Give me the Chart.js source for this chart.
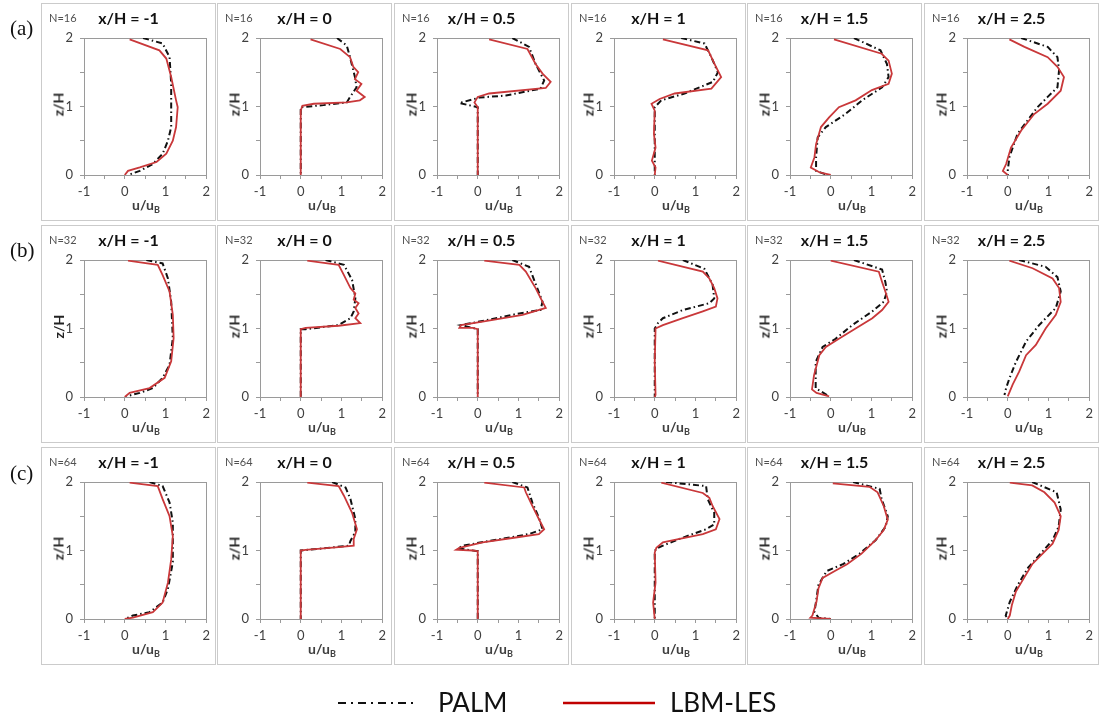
<!DOCTYPE html>
<html>
<head>
<meta charset="utf-8">
<script src="https://cdn.jsdelivr.net/npm/chart.js@4"></script>
<style>
  body { margin: 0; background: #fff; width: 1101px; height: 720px; position: relative; overflow: hidden; font-family: Lato, "Open Sans", sans-serif; }
  .panel { position: absolute; width: 175px; height: 218px; border: 1px solid #cbcbcb; box-sizing: border-box; background: #fff; }
  .panel canvas { position: absolute; left: 0; top: 0; }
  .nlab { position: absolute; left: 7px; top: 7px; font-size: 11px; color: #505050; }
  .ttl { position: absolute; left: 0; width: 173px; top: 4px; text-align: center; font-weight: bold; font-size: 16px; color: #111; }
  .zlab { position: absolute; left: -4px; top: 92px; width: 40px; text-align: center; font-weight: bold; font-size: 14px; color: #222; transform: rotate(-90deg); }
  .ulab { position: absolute; left: 64px; width: 80px; top: 192px; text-align: center; font-weight: bold; font-size: 14px; color: #404040; }
  .ulab sub { font-size: 9px; vertical-align: -3px; }
  .row { position: absolute; left: 10px; font-family: "Liberation Serif", serif; font-size: 21px; color: #111; }
  .legend { position: absolute; top: 686px; font-size: 26px; color: #111; }
</style>
</head>
<body>
<div id="fig"></div>
<div class="row" style="top:16px">(a)</div>
<div class="row" style="top:238px">(b)</div>
<div class="row" style="top:461px">(c)</div>

<svg style="position:absolute;left:330px;top:690px" width="100" height="30">
  <line x1="8" y1="13" x2="88" y2="13" stroke="#111" stroke-width="2" stroke-dasharray="8,5,2,5"/>
</svg>
<div class="legend" style="left:438px">PALM</div>
<svg style="position:absolute;left:555px;top:690px" width="110" height="30">
  <line x1="8" y1="13" x2="100" y2="13" stroke="#c00000" stroke-width="2.5"/>
</svg>
<div class="legend" style="left:670px">LBM-LES</div>

<script>
// profiles are [u/uB, z/H] pairs
const TITLES = ["x/H = -1", "x/H = 0", "x/H = 0.5", "x/H = 1", "x/H = 1.5", "x/H = 2.5"];
const NLABELS = ["N=16", "N=32", "N=64"];
const X_TICKS = [-1, 0, 1, 2];
const Y_TICKS = [0, 1, 2];

const lbmN16 = [
  [[0.12,1.98],[0.85,1.82],[1.02,1.70],[1.14,1.43],[1.26,1.09],[1.30,0.99],[1.26,0.70],[1.18,0.50],[1.02,0.31],[0.78,0.19],[0.37,0.11],[0.08,0.06],[0,0]],
  [[0.24,1.98],[0.97,1.84],[1.21,1.72],[1.29,1.58],[1.41,1.50],[1.33,1.40],[1.49,1.33],[1.37,1.23],[1.57,1.14],[1.45,1.09],[1.13,1.06],[0.32,1.04],[0.04,1.01],[0,0.94],[0,0]],
  [[0.28,1.98],[1.22,1.84],[1.42,1.62],[1.59,1.48],[1.79,1.36],[1.67,1.27],[0.28,1.19],[0,1.14],[-0.08,1.06],[0,0.99],[0,0]],
  [[0.20,1.98],[1.31,1.82],[1.47,1.62],[1.63,1.43],[1.39,1.26],[0.49,1.19],[0.12,1.11],[-0.08,1.04],[0,0.94],[-0.02,0.60],[0.02,0.40],[-0.07,0.21],[0.02,0.11],[0,0]],
  [[0.08,1.98],[1.25,1.77],[1.42,1.67],[1.50,1.48],[1.42,1.33],[1.01,1.24],[0.61,1.09],[0.20,0.99],[-0.04,0.84],[-0.24,0.70],[-0.36,0.45],[-0.40,0.26],[-0.49,0.11],[-0.28,0.04],[0,0]],
  [[0.04,1.98],[0.41,1.87],[0.98,1.72],[1.22,1.58],[1.38,1.43],[1.30,1.23],[0.98,1.04],[0.65,0.89],[0.33,0.65],[0.08,0.40],[-0.04,0.16],[-0.12,0.06],[0,0]]
];
const palmN16 = [
  [[0.45,2.0],[0.93,1.92],[1.10,1.72],[1.14,1.33],[1.14,1.09],[1.14,0.70],[1.06,0.50],[0.93,0.31],[0.69,0.16],[0.37,0.06],[0.08,0]],
  [[0.89,2.0],[1.13,1.89],[1.21,1.72],[1.33,1.43],[1.37,1.28],[1.21,1.14],[1.13,1.06],[0.56,1.02],[0,0.99],[0,0]],
  [[0.85,2.0],[1.26,1.87],[1.42,1.62],[1.63,1.38],[1.54,1.26],[0.69,1.16],[0.04,1.13],[-0.45,1.05],[0,0.99],[0,0]],
  [[0.65,2.0],[1.22,1.92],[1.39,1.72],[1.55,1.50],[1.43,1.36],[0.73,1.19],[0.16,1.09],[0,0.99],[0,0]],
  [[0.57,2.0],[1.22,1.82],[1.38,1.62],[1.42,1.43],[1.26,1.28],[0.77,1.09],[0.36,0.89],[-0.12,0.70],[-0.32,0.55],[-0.36,0.26],[-0.36,0.06],[-0.08,0]],
  [[0.33,2.0],[0.98,1.87],[1.22,1.72],[1.26,1.53],[1.22,1.28],[0.98,1.14],[0.73,0.99],[0.49,0.80],[0.24,0.60],[0.04,0.26],[0,0.06],[0,0]]
];

const lbmN32 = [
  [[0.08,1.99],[0.81,1.93],[0.93,1.78],[1.10,1.54],[1.18,1.20],[1.20,0.86],[1.14,0.52],[0.98,0.28],[0.61,0.13],[0.12,0.06],[0,0]],
  [[0.16,1.99],[0.93,1.93],[1.06,1.78],[1.22,1.59],[1.34,1.51],[1.30,1.42],[1.42,1.37],[1.34,1.30],[1.42,1.22],[1.34,1.15],[1.46,1.08],[0.93,1.04],[0.12,1.01],[0,0.99],[0,0]],
  [[0.16,1.99],[1.02,1.93],[1.18,1.83],[1.42,1.59],[1.59,1.39],[1.67,1.30],[1.10,1.20],[0.12,1.10],[-0.41,1.05],[-0.45,1.01],[-0.12,1.01],[0,0.99],[0,0]],
  [[0.08,1.99],[1.18,1.83],[1.34,1.73],[1.46,1.59],[1.54,1.44],[1.50,1.32],[1.18,1.25],[0.69,1.15],[0.20,1.05],[0.02,1.00],[0,0.51],[0.02,0.03],[0,0]],
  [[0,1.99],[1.18,1.83],[1.26,1.68],[1.34,1.54],[1.42,1.39],[1.26,1.27],[1.02,1.15],[0.61,1.00],[0.20,0.85],[-0.12,0.73],[-0.28,0.61],[-0.41,0.32],[-0.46,0.11],[-0.35,0.06],[-0.04,0.01]],
  [[0.04,1.99],[0.61,1.88],[1.10,1.73],[1.26,1.59],[1.30,1.39],[1.18,1.20],[0.93,1.00],[0.69,0.76],[0.45,0.61],[0.28,0.37],[0.12,0.18],[0,0.01]]
];
const palmN32 = [
  [[0.53,2.0],[0.93,1.95],[1.06,1.73],[1.14,1.39],[1.18,0.86],[1.10,0.47],[0.93,0.28],[0.69,0.13],[0.37,0.06],[0.04,0.01]],
  [[0.61,2.0],[1.06,1.93],[1.26,1.71],[1.34,1.44],[1.30,1.25],[1.22,1.15],[0.93,1.05],[0.12,0.99],[0,0.99],[0,0]],
  [[0.85,2.0],[1.26,1.90],[1.46,1.59],[1.59,1.39],[1.54,1.27],[1.02,1.22],[0.20,1.12],[-0.41,1.05],[0,0.99],[0,0]],
  [[0.69,2.0],[1.22,1.87],[1.42,1.64],[1.46,1.44],[1.34,1.37],[0.69,1.27],[0.20,1.15],[0.08,1.08],[0,1.00],[0,0]],
  [[0.57,2.0],[1.26,1.86],[1.34,1.68],[1.38,1.54],[1.30,1.39],[1.02,1.25],[0.53,1.05],[0.12,0.85],[-0.20,0.73],[-0.37,0.51],[-0.37,0.13],[-0.04,0.01]],
  [[0.28,2.0],[0.93,1.90],[1.22,1.75],[1.30,1.54],[1.18,1.30],[0.77,1.05],[0.45,0.81],[0.20,0.51],[0.04,0.27],[-0.04,0.13],[-0.08,0.03]]
];

const lbmN64 = [
  [[0.12,1.99],[0.81,1.94],[0.93,1.75],[1.10,1.50],[1.18,1.21],[1.14,0.87],[1.06,0.53],[0.93,0.24],[0.69,0.10],[0.20,0.02],[0,0]],
  [[0.16,1.99],[0.93,1.94],[1.06,1.80],[1.26,1.55],[1.38,1.31],[1.30,1.17],[1.30,1.07],[0.93,1.05],[0.12,1.01],[0,1.00],[0,0]],
  [[0.16,1.99],[1.14,1.92],[1.18,1.85],[1.34,1.65],[1.50,1.46],[1.63,1.31],[1.50,1.24],[0.93,1.19],[0.12,1.12],[-0.45,1.04],[-0.53,1.01],[-0.12,1.00],[0,0.99],[0,0]],
  [[0.16,1.99],[1.18,1.84],[1.34,1.77],[1.42,1.65],[1.59,1.46],[1.50,1.31],[1.18,1.24],[0.61,1.17],[0.20,1.12],[0.04,1.04],[0,0.97],[0.02,0.53],[-0.04,0.24],[0,0]],
  [[0.05,1.98],[0.95,1.93],[1.15,1.85],[1.30,1.65],[1.40,1.45],[1.30,1.30],[1.10,1.15],[0.75,0.95],[0.40,0.80],[0.10,0.70],[-0.20,0.60],[-0.30,0.45],[-0.35,0.25],[-0.45,0.05],[-0.50,0.02],[0,0]],
  [[0.05,1.99],[0.60,1.95],[0.90,1.85],[1.15,1.70],[1.30,1.50],[1.25,1.30],[1.10,1.10],[0.85,0.95],[0.60,0.80],[0.40,0.60],[0.20,0.40],[0.10,0.20],[0.05,0.05],[0,0]]
];
const palmN64 = [
  [[0.61,2.0],[0.93,1.94],[1.10,1.70],[1.18,1.41],[1.18,1.12],[1.18,0.83],[1.06,0.44],[0.93,0.24],[0.61,0.10],[0.20,0.05],[0,0]],
  [[0.77,2.0],[1.10,1.92],[1.22,1.75],[1.34,1.46],[1.34,1.27],[1.22,1.14],[1.18,1.07],[0.53,1.03],[0,1.00],[0,0]],
  [[0.85,2.0],[1.22,1.92],[1.34,1.70],[1.50,1.48],[1.59,1.31],[1.26,1.24],[0.28,1.14],[-0.37,1.07],[-0.49,1.03],[0,0.99],[0,0]],
  [[0.28,2.0],[1.26,1.94],[1.30,1.75],[1.46,1.55],[1.46,1.38],[1.26,1.31],[0.61,1.17],[0.28,1.09],[0.04,1.03],[0,0.99],[0,0]],
  [[0.55,2.0],[1.20,1.90],[1.25,1.75],[1.40,1.50],[1.35,1.35],[1.10,1.15],[0.70,0.95],[0.30,0.80],[-0.10,0.70],[-0.30,0.50],[-0.35,0.30],[-0.40,0.10],[-0.30,0.02],[0,0]],
  [[0.60,2.0],[1.20,1.85],[1.30,1.60],[1.25,1.35],[1.10,1.15],[0.80,0.95],[0.50,0.75],[0.25,0.50],[0.05,0.25],[-0.05,0.05],[0,0]]
];

const LBM = [lbmN16, lbmN32, lbmN64];
const PALM = [palmN16, palmN32, palmN64];

const COL_LEFT = [41, 217, 394, 571, 747, 924];
const ROW_TOP = [3, 225, 447];
const CW = 173, CH = 216;

const frame = {
  id: "frame",
  beforeDatasetsDraw(chart) {
    const a = chart.chartArea, ctx = chart.ctx;
    ctx.save();
    ctx.strokeStyle = "#9a9a9a";
    ctx.lineWidth = 1;
    ctx.strokeRect(Math.round(a.left) + 0.5, Math.round(a.top) + 0.5, Math.round(a.right - a.left), Math.round(a.bottom - a.top));
    ctx.restore();
  },
};

const toXY = (arr) => arr.map((p) => ({ x: p[0], y: p[1] }));
const tickFont = { family: "Lato, 'Open Sans', sans-serif", size: 13 };

const fig = document.getElementById("fig");

for (let r = 0; r < 3; r++) {
  for (let c = 0; c < 6; c++) {
    const panel = document.createElement("div");
    panel.className = "panel";
    panel.style.left = COL_LEFT[c] + "px";
    panel.style.top = ROW_TOP[r] + "px";
    panel.innerHTML =
      '<canvas width="' + CW + '" height="' + CH + '"></canvas>' +
      '<div class="nlab">' + NLABELS[r] + "</div>" +
      '<div class="ttl">' + TITLES[c] + "</div>" +
      '<div class="zlab">z/H</div>' +
      '<div class="ulab">u/u<sub>B</sub></div>';
    fig.appendChild(panel);

    const cv = panel.querySelector("canvas");
    new Chart(cv, {
      type: "scatter",
      data: {
        datasets: [
          {
            label: "LBM-LES",
            data: toXY(LBM[r][c]),
            showLine: true,
            borderColor: "#c9383a",
            borderWidth: 1.8,
            pointRadius: 0,
          },
          {
            label: "PALM",
            data: toXY(PALM[r][c]),
            showLine: true,
            borderColor: "#111",
            borderWidth: 2,
            borderDash: [6, 3, 1.5, 3],
            pointRadius: 0,
          },
        ],
      },
      options: {
        animation: false,
        responsive: false,
        maintainAspectRatio: false,
        events: [],
        layout: { padding: { top: 34, right: 7, left: 0, bottom: 0 } },
        plugins: { legend: { display: false }, tooltip: { enabled: false } },
        scales: {
          x: {
            type: "linear",
            min: -1,
            max: 2,
            ticks: {
              stepSize: 0.5,
              autoSkip: false,
              maxRotation: 0,
              padding: 5,
              color: "#404040",
              font: tickFont,
              callback: (v) => (X_TICKS.includes(v) ? String(v) : ""),
            },
            grid: { drawOnChartArea: false, tickLength: 4, color: "#9a9a9a" },
            border: { color: "#9a9a9a" },
            afterFit: (s) => { s.height = CH - 171; },
          },
          y: {
            type: "linear",
            min: 0,
            max: 2,
            ticks: {
              stepSize: 0.5,
              autoSkip: false,
              padding: 7,
              color: "#404040",
              font: tickFont,
              callback: (v) => (Y_TICKS.includes(v) ? String(v) : ""),
            },
            grid: { drawOnChartArea: false, tickLength: 4, color: "#9a9a9a" },
            border: { color: "#9a9a9a" },
            afterFit: (s) => { s.width = 42; },
          },
        },
      },
      plugins: [frame],
    });
  }
}
</script>
</body>
</html>
